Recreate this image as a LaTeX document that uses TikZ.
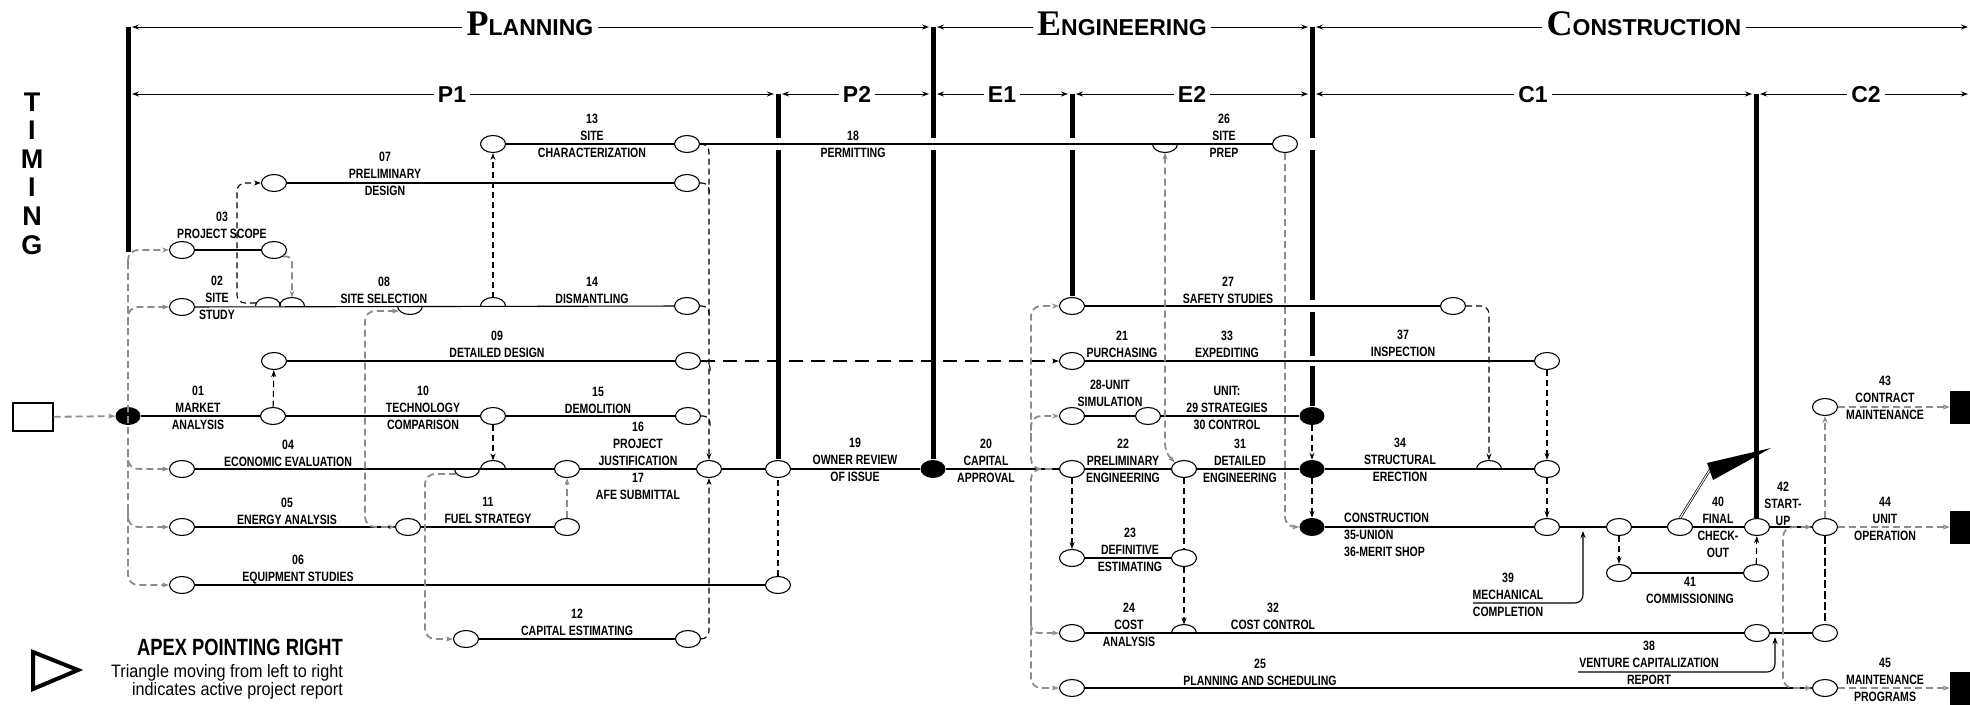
\documentclass[tikz,border=0pt]{standalone}
\usepackage{fontspec}
\usetikzlibrary{shapes.geometric,arrows.meta}
\newfontfamily\labfont{Liberation Sans}[FakeStretch=0.78]
\newfontfamily\legfont{Liberation Sans}[FakeStretch=0.9]
\newfontfamily\hdfont{Liberation Sans}
\newfontfamily\inifont{Liberation Serif}
\begin{document}
\begin{tikzpicture}[x=1pt,y=-1pt,>={Stealth[length=7pt,width=5pt]},
  circ/.style={ellipse,draw,fill=white,line width=1.1pt,minimum width=25pt,minimum height=17pt,inner sep=0pt},
  blob/.style={ellipse,fill=black,minimum width=25pt,minimum height=18pt,inner sep=0pt},
  sqr/.style={fill=black,minimum width=22pt,minimum height=33pt,inner sep=0pt},
  lbl/.style={font=\labfont\bfseries\fontsize{13.5}{17}\selectfont,align=center,inner sep=0pt},
  hdr/.style={font=\hdfont\bfseries\fontsize{23}{23}\selectfont,inner sep=4pt,text height=16.5pt,text depth=0pt},
  hline/.style={line width=1pt},
  act/.style={line width=1.1pt},
  phasebar/.style={line width=5pt},
  bdash/.style={line width=1.1pt,dash pattern=on 6pt off 4pt},
  ldash/.style={line width=1.1pt,dash pattern=on 14pt off 8pt},
  gdash/.style={line width=1.8pt,black!45,dash pattern=on 7pt off 4pt},
  kdash/.style={line width=2.6pt,dash pattern=on 8pt off 3pt}]
\useasboundingbox (0,0) rectangle (1970,704);

\node[font=\hdfont\bfseries\fontsize{27}{28.6}\selectfont,align=center,inner sep=0pt] (tim) at (32,173.5) {T\\I\\M\\I\\N\\G};

\node[hdr] (hPL) at (530,27) {{\inifont\fontsize{36}{36}\selectfont P}LANNING};
\node[hdr] (hEN) at (1122,27) {{\inifont\fontsize{36}{36}\selectfont E}NGINEERING};
\node[hdr] (hCO) at (1644,27) {{\inifont\fontsize{36}{36}\selectfont C}ONSTRUCTION};
\node[hdr] (hP1) at (452,94) {P1};
\node[hdr] (hP2) at (857,94) {P2};
\node[hdr] (hE1) at (1002,94) {E1};
\node[hdr] (hE2) at (1192,94) {E2};
\node[hdr] (hC1) at (1533,94) {C1};
\node[hdr] (hC2) at (1866,94) {C2};
\foreach \n/\x in {a/132,b/929,c/937,d/1308,e/1316,f/1968} \coordinate (r1\n) at (\x,27);
\foreach \n/\x in {a/132,b/774,c/782,d/929,e/937,f/1068,g/1076,h/1308,i/1316,j/1752,k/1760,l/1968} \coordinate (r2\n) at (\x,94);
\foreach \a/\n/\b in {r1a/hPL/r1b,r1c/hEN/r1d,r1e/hCO/r1f,r2a/hP1/r2b,r2c/hP2/r2d,r2e/hE1/r2f,r2g/hE2/r2h,r2i/hC1/r2j,r2k/hC2/r2l}
  {\draw[hline,<-] (\a) -- (\n); \draw[hline,->] (\n) -- (\b);}

\draw[phasebar] (128,27) -- (128,252);
\draw[phasebar] (778,94) -- (778,138) (778,150) -- (778,459);
\draw[phasebar] (933,27) -- (933,138) (933,150) -- (933,459);
\draw[phasebar] (1072,94) -- (1072,138) (1072,150) -- (1072,296);
\draw[phasebar] (1312,27) -- (1312,138) (1312,150) -- (1312,300) (1312,312) -- (1312,356) (1312,366) -- (1312,406);
\draw[phasebar] (1756,94) -- (1756,518);

\node[draw,line width=1.2pt,minimum width=40pt,minimum height=28pt,inner sep=0pt] (inp) at (33,417) {};
\node[circ] (c03a) at (182,250) {};
\node[circ] (c03b) at (274,250) {};
\node[circ] (c02) at (182,307) {};
\coordinate (j07) at (268,306);
\coordinate (j03) at (292,306);
\coordinate (j08) at (410,306);
\coordinate (j14) at (493,306);
\node[circ] (c14b) at (687,306) {};
\node[circ] (c07a) at (274,183) {};
\node[circ] (c07b) at (687,183) {};
\node[circ] (c13a) at (493,144) {};
\node[circ] (c13b) at (687,144) {};
\node[circ] (c09a) at (274,361) {};
\node[circ] (c09b) at (688,361) {};
\node[blob] (d01) at (128,416) {};
\node[circ] (c01) at (273,416) {};
\node[circ] (c10) at (493,416) {};
\node[circ] (c15) at (688,416) {};
\node[circ] (c04) at (182,469) {};
\coordinate (j12) at (467,469);
\coordinate (j10) at (493,469);
\node[circ] (c04b) at (567,469) {};
\node[circ] (c16) at (709,469) {};
\node[circ] (c19) at (778,469) {};
\node[blob] (d20) at (933,469) {};
\node[circ] (c05) at (182,527) {};
\node[circ] (c11a) at (408,527) {};
\node[circ] (c11b) at (567,527) {};
\node[circ] (c06a) at (182,585) {};
\node[circ] (c06b) at (778,585) {};
\node[circ] (c12a) at (466,639) {};
\node[circ] (c12b) at (688,639) {};

\coordinate (j26) at (1165,144);
\node[circ] (c26) at (1285,144) {};
\node[circ] (c27a) at (1072,306) {};
\node[circ] (c27b) at (1453,306) {};
\node[circ] (c21) at (1072,361) {};
\node[circ] (c37) at (1547,361) {};
\node[circ] (c28a) at (1072,416) {};
\node[circ] (c28b) at (1148,416) {};
\node[blob] (d29) at (1312,416) {};
\node[circ] (c22) at (1072,469) {};
\node[circ] (c31) at (1184,469) {};
\node[blob] (d31) at (1312,469) {};
\coordinate (j27) at (1489,469);
\node[circ] (c34) at (1547,469) {};
\node[circ] (c23a) at (1072,558) {};
\node[circ] (c23b) at (1184,558) {};
\node[circ] (c24) at (1072,633) {};
\coordinate (j23) at (1184,633);
\node[circ] (c38a) at (1757,633) {};
\node[circ] (c38b) at (1825,633) {};
\node[circ] (c25) at (1072,688) {};
\node[circ] (c45) at (1825,688) {};
\node[blob] (d35) at (1312,527) {};
\node[circ] (c35) at (1547,527) {};
\node[circ] (c40a) at (1619,527) {};
\node[circ] (c40b) at (1680,527) {};
\node[circ] (c42) at (1757,527) {};
\node[circ] (c44) at (1825,527) {};
\node[circ] (c41a) at (1619,573) {};
\node[circ] (c41b) at (1756,573) {};
\node[circ] (c43) at (1825,407) {};
\node[sqr] (s43) at (1961,407) {};
\node[sqr] (s44) at (1961,527) {};
\node[sqr] (s45) at (1961,688) {};

\draw[act] (c03a) -- (c03b);
\draw[act] (c02) -- (c14b);
\draw[act] (c07a) -- (c07b);
\draw[act] (c13a) -- (c13b) -- (c26);
\draw[act] (c09a) -- (c09b);
\draw[act] (d01) -- (c01) -- (c10) -- (c15);
\draw[act] (c04) -- (c04b) -- (c16) -- (c19) -- (d20) -- (c22) -- (c31) -- (d31) -- (c34);
\draw[act] (c05) -- (c11a) -- (c11b);
\draw[act] (c06a) -- (c06b);
\draw[act] (c12a) -- (c12b);
\draw[act] (c27a) -- (c27b);
\draw[act] (c21) -- (c37);
\draw[act] (c28a) -- (c28b) -- (d29);
\draw[act] (c23a) -- (c23b);
\draw[act] (c24) -- (c38a) -- (c38b);
\draw[act] (c25) -- (c45);
\draw[act] (d35) -- (c35) -- (c40a) -- (c40b) -- (c42) -- (c44);
\draw[act] (c41a) -- (c41b);
\foreach \j in {j07,j03,j14,j10,j27,j23}
  \draw[act] ([xshift=12.5pt]\j) arc[start angle=0,end angle=180,x radius=12.5pt,y radius=8.5pt];
\foreach \j in {j08,j12,j26}
  \draw[act] ([xshift=12.5pt]\j) arc[start angle=0,end angle=-180,x radius=12.5pt,y radius=8.5pt];

\coordinate (t0) at (128,262);
\coordinate (t02) at (128,325);
\coordinate (t04) at (128,450);
\coordinate (t05) at (128,508);
\draw[gdash,->] (inp) -- (d01);
\draw[gdash,->,rounded corners=10pt] (t0) |- (c06a);
\draw[gdash,->,rounded corners=10pt] (t0) |- (c03a);
\draw[gdash,->,rounded corners=10pt] (t02) |- (c02);
\draw[gdash,->,rounded corners=10pt] (t04) |- (c04);
\draw[gdash,->,rounded corners=10pt] (t05) |- (c05);
\draw[gdash,->,rounded corners=6pt] (c03b.south east) -| ([yshift=8.5pt]j03);
\draw[bdash,->,rounded corners=8pt] ([xshift=-12pt,yshift=3pt]j07) -| (237,250) |- (c07a);
\draw[gdash,<->,rounded corners=10pt] ([xshift=-11pt,yshift=-5pt]j08) -| (365,420) |- (c11a);
\draw[gdash,->,rounded corners=10pt] ([xshift=-11pt,yshift=-5pt]j12) -| (425,560) |- (c12a);
\draw[bdash,->] (c01) -- (c09a);
\draw[bdash,->] (c10) -- ([yshift=8.5pt]j10);
\draw[bdash,->] ([yshift=8.5pt]j14) -- (c13a);
\draw[gdash,->] (c11b) -- (c04b);
\draw[bdash,->,rounded corners=8pt] (c13b.east) -| (c16);
\foreach \n in {c07b,c14b,c09b,c15}
  \draw[bdash,rounded corners=7pt] (\n.east) -| ++(9,14);
\draw[bdash,->,rounded corners=8pt] (c12b.east) -| (c16);
\draw[bdash] (c06b) -- (c19);
\draw[ldash,->] (c09b) -- (c21);

\coordinate (t22) at (1052,469);
\coordinate (t28) at (1031,440);
\coordinate (t24) at (1031,612);
\draw[gdash,->,rounded corners=10pt] (t22) -| (1031,380) |- (c27a);
\draw[gdash,->,rounded corners=10pt] (t28) |- (c28a);
\draw[gdash,->,rounded corners=10pt] (t22) -| (1031,620) |- (c25);
\draw[gdash,->,rounded corners=8pt] (t24) |- (c24);
\draw[gdash,<->,rounded corners=8pt] ([yshift=-8.5pt]j26) -- (1165,452) -- (c31.north west);
\draw[gdash,->,rounded corners=10pt] (c26) |- (d35);
\draw[bdash,->,rounded corners=8pt] (c27b.east) -| ([yshift=8.5pt]j27);
\draw[bdash,->] (c22) -- (c23a);
\draw[bdash] (c31) -- (c23b);
\draw[bdash,->] (c23b) -- ([yshift=8.5pt]j23);
\draw[bdash,->] (d29) -- (d31);
\draw[bdash,->] (d31) -- (d35);
\draw[bdash,->] (c37) -- (c34);
\draw[bdash,->] (c34) -- (c35);
\draw[bdash,->] (c40a) -- (c41a);
\draw[bdash,->] (c41b) -- (c42);
\draw[gdash,->] (c44) -- (c43);
\draw[kdash] (c44) -- (c38b);
\draw[gdash,<->,rounded corners=10pt] (c44) -| (1783,610) |- (c45);
\draw[gdash,->] (c43) -- (s43);
\draw[gdash,->] (c44) -- (s44);
\draw[gdash,->] (c45) -- (s45);
\coordinate (m39) at (1473,603);
\coordinate (k35) at (1583,531);
\coordinate (m38) at (1578,672);
\coordinate (k32) at (1775,637);
\draw[act,->,rounded corners=8pt] (m39) -| (k35);
\draw[act,->,rounded corners=8pt] (m38) -| (k32);

\draw[double=white,double distance=1pt,line width=0.7pt] (c40b.north) -- (1711,468);
\fill (1707,463) -- (1771,448) -- (1713,480) -- cycle;

\node[lbl] (l03) at (222,225) {03\\PROJECT SCOPE};
\node[lbl] (l02) at (217,298) {02\\SITE\\STUDY};
\node[lbl] (l07) at (385,173.5) {07\\PRELIMINARY\\DESIGN};
\node[lbl] (l08) at (384,290) {08\\SITE SELECTION};
\node[lbl] (l09) at (497,344.5) {09\\DETAILED DESIGN};
\node[lbl] (l01) at (198,407.5) {01\\MARKET\\ANALYSIS};
\node[lbl] (l10) at (423,407.5) {10\\TECHNOLOGY\\COMPARISON};
\node[lbl] (l04) at (288,453.5) {04\\ECONOMIC EVALUATION};
\node[lbl] (l05) at (287,511) {05\\ENERGY ANALYSIS};
\node[lbl] (l06) at (298,569.5) {06\\EQUIPMENT STUDIES};
\node[lbl] (l13) at (592,135.5) {13\\SITE\\CHARACTERIZATION};
\node[lbl] (l14) at (592,290.5) {14\\DISMANTLING};
\node[lbl] (l15) at (598,400) {15\\DEMOLITION};
\node[lbl] (l16) at (638,461) {16\\PROJECT\\JUSTIFICATION\\17\\AFE SUBMITTAL};
\node[lbl] (l11) at (488,510.5) {11\\FUEL STRATEGY};
\node[lbl] (l12) at (577,622) {12\\CAPITAL ESTIMATING};
\node[lbl] (l18) at (853,144) {18\\PERMITTING};
\node[lbl] (l19) at (855,459.5) {19\\OWNER REVIEW\\OF ISSUE};
\node[lbl] (l20) at (986,460.5) {20\\CAPITAL\\APPROVAL};
\node[lbl] (l26) at (1224,135.5) {26\\SITE\\PREP};
\node[lbl] (l27) at (1228,290) {27\\SAFETY STUDIES};
\node[lbl] (l21) at (1122,344.5) {21\\PURCHASING};
\node[lbl] (l33) at (1227,344.5) {33\\EXPEDITING};
\node[lbl] (l37) at (1403,343.5) {37\\INSPECTION};
\node[lbl] (l28) at (1110,393) {28-UNIT\\SIMULATION};
\node[lbl] (l29) at (1227,408) {UNIT:\\29 STRATEGIES\\30 CONTROL};
\node[lbl] (l22) at (1123,460.5) {22\\PRELIMINARY\\ENGINEERING};
\node[lbl] (l31) at (1240,460.5) {31\\DETAILED\\ENGINEERING};
\node[lbl] (l34) at (1400,459.5) {34\\STRUCTURAL\\ERECTION};
\node[lbl] (l23) at (1130,550) {23\\DEFINITIVE\\ESTIMATING};
\node[lbl] (l24) at (1129,624.5) {24\\COST\\ANALYSIS};
\node[lbl] (l32) at (1273,616) {32\\COST CONTROL};
\node[lbl] (l25) at (1260,672) {25\\PLANNING AND SCHEDULING};
\node[lbl,align=left,anchor=west] (l35) at (1344,534.5) {CONSTRUCTION\\35-UNION\\36-MERIT SHOP};
\node[lbl] (l39) at (1508,594.5) {39\\MECHANICAL\\COMPLETION};
\node[lbl] (l38) at (1649,662.5) {38\\VENTURE CAPITALIZATION\\REPORT};
\node[lbl] (l40) at (1718,527) {40\\FINAL\\CHECK-\\OUT};
\node[lbl] (l42) at (1783,504) {42\\START-\\UP};
\node[lbl] (l41) at (1690,590.5) {41\\COMMISSIONING};
\node[lbl] (l43) at (1885,398) {43\\CONTRACT\\MAINTENANCE};
\node[lbl] (l44) at (1885,518.5) {44\\UNIT\\OPERATION};
\node[lbl] (l45) at (1885,679.5) {45\\MAINTENANCE\\PROGRAMS};

\draw[line width=4pt,line join=miter] (33,652) -- (78,670) -- (33,689) -- cycle;
\node[font=\labfont\bfseries\fontsize{23.5}{24}\selectfont,inner sep=0pt,anchor=base east] (apx) at (343,655) {APEX POINTING RIGHT};
\node[font=\legfont\fontsize{18}{18}\selectfont,inner sep=0pt,anchor=base east] (leg1) at (343,677) {Triangle moving from left to right};
\node[font=\legfont\fontsize{18}{18}\selectfont,inner sep=0pt,anchor=base east] (leg2) at (343,695) {indicates active project report};
\end{tikzpicture}
\end{document}
